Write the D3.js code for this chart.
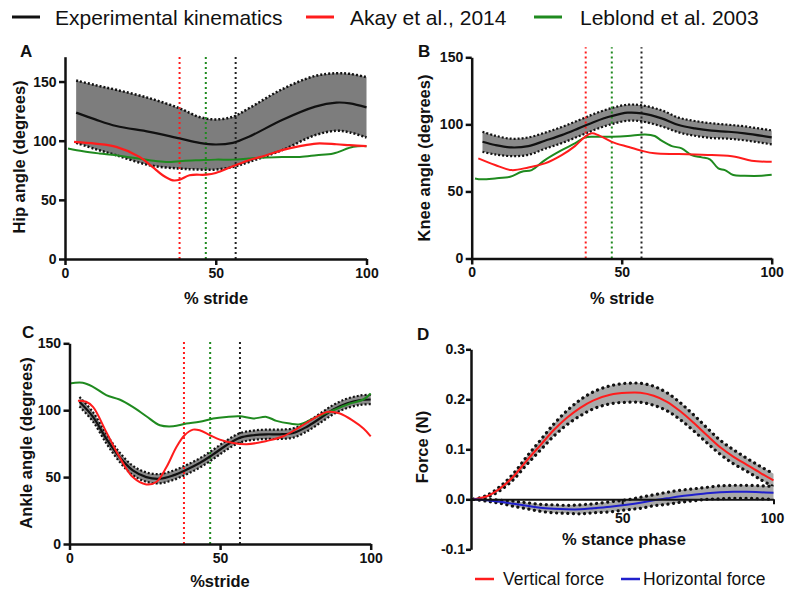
<!DOCTYPE html>
<html><head><meta charset="utf-8">
<script src="https://cdn.jsdelivr.net/npm/d3@7"></script>
<style>body{margin:0;background:#fff;overflow:hidden} svg{display:block}</style>
</head><body><svg id="c" width="785" height="590"></svg>
<script>
// ---------------- DATA ----------------
const legendTop = ["Experimental kinematics", "Akay et al., 2014", "Leblond et al. 2003"];
const legendBottom = ["Vertical force", "Horizontal force"];
const strideTicks = [0, 50, 100];
const angleTicks = [0, 50, 100, 150];
const forceTicks = [-0.1, 0, 0.1, 0.2, 0.3];
const toeOff = [38, 46.7, 56.6]; // Akay, Leblond, experimental

// A: hip
const hipX = [3.7, 10, 17, 28, 38, 44.6, 50, 55.7, 61, 72, 83, 90, 94.5, 100];
const hipMean = [123.7, 118, 112.4, 107.5, 101.9, 98.2, 96.8, 98.2, 103.3, 117.5, 128.8, 132.2, 131.6, 128.2];
const hipUpper = [150.9, 147, 143, 135.9, 127.4, 120, 118, 120.3, 127.4, 143.5, 154.8, 157, 156.5, 153.7];
const hipLower = [98.2, 93, 87.7, 79.3, 76.4, 75.6, 75.6, 77.8, 82, 92, 104.7, 108.4, 107, 102.7];
const hipAkayX = [3, 10, 17, 24.7, 29, 32.4, 35.8, 38, 41.3, 46.8, 50, 55.7, 61, 66.8, 72, 77.9, 83.4, 90, 94.5, 100];
const hipAkay = [99, 97.5, 94.8, 86.3, 77.8, 70.8, 66.5, 67, 70.8, 71.3, 72.7, 78.4, 83.5, 87.7, 92, 95.4, 97.6, 97, 96.2, 95.4];
const hipLeblondX = [1, 6, 11.4, 17, 28, 33.5, 39, 44.6, 50, 55.7, 61, 66.8, 72, 77.9, 83.4, 89, 95.6, 100];
const hipLeblond = [93.4, 91, 89.2, 87.7, 83.5, 82, 82.9, 83.5, 84, 84, 84.9, 85.8, 86.3, 86.3, 87.7, 89.2, 94.8, 95.4];

// B: knee
const kneeX = [3.6, 7.8, 13.3, 18.9, 24.4, 30, 35.6, 41, 46.7, 52, 56.7, 63.3, 69, 74.4, 80, 85.6, 91, 100];
const kneeMean = [87, 84.6, 82.8, 83.8, 87.8, 92, 97, 102, 106.2, 108.7, 108.2, 104.5, 99.5, 97, 95.3, 94.5, 93.3, 90.3];
const kneeSD = [7.5, 7, 6.5, 6.5, 6, 6, 6, 6, 6, 6, 6, 6, 5.5, 5.5, 5.5, 5.2, 5.2, 5.2];
const kneeAkayX = [2.2, 7.8, 13.3, 18.9, 24.4, 30, 34.4, 37.8, 40, 42.2, 46.7, 52, 56.7, 61, 69, 80, 87.8, 93.3, 100];
const kneeAkay = [74.6, 69.7, 65.9, 67.9, 70.9, 77.1, 83.8, 90.8, 93.3, 92, 87, 83.3, 80.3, 78.4, 77.9, 77.1, 75.9, 72.9, 72.1];
const kneeLeblondX = [1.1, 3.3, 7.8, 12.8, 16.7, 20, 24.4, 30, 34.4, 37.8, 41, 46.7, 52, 57.8, 61, 63.3, 66.7, 70, 73.3, 76.7, 79.4, 82.2, 84.4, 87.2, 91, 96.7, 100];
const kneeLeblond = [59.7, 59, 59.7, 61, 64.7, 65.9, 73.4, 80.8, 85.8, 90.3, 90.8, 90.8, 91.3, 92.5, 91.3, 87.8, 83.8, 82.1, 77.1, 75.4, 73.9, 67.2, 65.9, 62.2, 61.7, 61.7, 62.4];

// C: ankle
const ankleX = [3.3, 7.8, 12.2, 16.6, 21, 25.5, 30, 34.4, 38.8, 43.2, 47.7, 52.1, 56.5, 61, 65.4, 69.8, 74.3, 78.7, 83.1, 87.6, 92, 96.5, 100];
const ankleMean = [106.3, 95, 78.8, 65, 55, 50, 48.8, 51.3, 55.5, 60.5, 67, 73.8, 79.3, 81.3, 82, 82, 83, 87.5, 93.8, 100.5, 105, 107.5, 108];
const ankleSD = [3.5, 3.5, 3.5, 3.5, 3.5, 3.5, 3.5, 3.5, 3.5, 3.5, 3.5, 3.5, 3.5, 3.5, 3.5, 3.5, 3.5, 3.5, 3.5, 3.5, 3.5, 3.5, 3.5];
const ankleAkayX = [2.8, 5.5, 7.8, 12.2, 16.6, 21, 25.5, 28.8, 32.2, 35.5, 38.2, 41, 43.2, 46.6, 49.9, 54.3, 58.8, 65.4, 71, 76.5, 82, 85.9, 89.8, 94.2, 97.6, 100];
const ankleAkay = [107, 106.3, 102.5, 83.8, 65, 50, 44.5, 46.3, 57.5, 72.5, 81.3, 85.5, 85, 81.3, 78, 75.5, 74.5, 77, 80.5, 87.5, 95, 98.8, 97.5, 92, 86.3, 80.5];
const ankleLeblondX = [0, 4.4, 7.8, 12.2, 16.6, 21, 25.5, 30, 34.4, 38.8, 43.2, 47.7, 52.1, 56.5, 61, 65.4, 68.7, 73.2, 76.5, 82, 87.6, 93.1, 97.6, 100];
const ankleLeblond = [120, 120.5, 117.5, 111.3, 108, 102.5, 95.5, 88.8, 88, 90, 91.3, 93.8, 95, 95.5, 93.8, 95, 92, 90, 89.5, 95, 100, 105, 108, 112.5];

// D: forces
const stanceX = [0.9, 5.3, 9.7, 14.1, 18.5, 22.9, 27.3, 31.7, 36.1, 40.5, 46, 51.5, 56, 60.4, 64.8, 69.2, 73.6, 78, 82.4, 86.8, 91.2, 95.6, 100];
const vertMean = [0, 0.006, 0.022, 0.046, 0.078, 0.108, 0.138, 0.163, 0.183, 0.198, 0.209, 0.213, 0.213, 0.207, 0.195, 0.176, 0.153, 0.128, 0.104, 0.085, 0.069, 0.053, 0.038];
const vertSD = [0, 0.002, 0.004, 0.006, 0.008, 0.01, 0.012, 0.014, 0.016, 0.017, 0.018, 0.019, 0.019, 0.019, 0.018, 0.017, 0.016, 0.015, 0.014, 0.014, 0.013, 0.013, 0.013];
const horizMean = [0, -0.002, -0.005, -0.009, -0.013, -0.017, -0.019, -0.02, -0.02, -0.018, -0.015, -0.011, -0.007, -0.002, 0.002, 0.006, 0.009, 0.012, 0.014, 0.015, 0.015, 0.014, 0.013];
const horizSD = [0, 0.002, 0.003, 0.005, 0.006, 0.007, 0.008, 0.008, 0.009, 0.009, 0.01, 0.01, 0.011, 0.011, 0.012, 0.012, 0.012, 0.012, 0.013, 0.013, 0.013, 0.013, 0.013];

// ---------------- DRAWING ----------------
const FONT = 'Arial, "Liberation Sans", sans-serif';
const RED = "#ff1c1c", GREEN = "#1f8a1f", BLUE = "#2020cc", BLACK = "#111";
const svg = d3.select("#c").style("font-family", FONT);
const zip = (xs, ys) => xs.map((v, i) => [v, ys[i]]);

function makePanel(cfg) {
  const x = d3.scaleLinear([0, 100], cfg.xr);
  const y = d3.scaleLinear(cfg.yd, cfg.yr);
  const g = svg.append("g");
  const curve = d3.curveCatmullRom.alpha(0.5);
  const line = d3.line().x(d => x(d[0])).y(d => y(d[1])).curve(curve);
  return { x, y, g, line, curve };
}

function drawBand(p, xs, lo, hi, fill, edge) {
  const area = d3.area().x(d => p.x(d[0])).y0(d => p.y(d[1])).y1(d => p.y(d[2])).curve(p.curve);
  p.g.append("path").datum(xs.map((v, i) => [v, lo[i], hi[i]]))
    .attr("d", area).attr("fill", fill).attr("stroke", "none");
  [lo, hi].forEach(arr => {
    p.g.append("path").datum(zip(xs, arr)).attr("d", p.line)
      .attr("fill", "none").attr("stroke", BLACK)
      .attr("stroke-width", edge.w).attr("stroke-dasharray", edge.dash)
      .attr("stroke-linecap", edge.cap || "butt");
  });
}

function drawLine(p, xs, ys, color, w) {
  p.g.append("path").datum(zip(xs, ys)).attr("d", p.line)
    .attr("fill", "none").attr("stroke", color).attr("stroke-width", w);
}

function drawVLines(p, top) {
  const cols = [RED, GREEN, "#222"];
  toeOff.forEach((v, i) => {
    p.g.append("line").attr("x1", p.x(v)).attr("x2", p.x(v))
      .attr("y1", p.y(0)).attr("y2", p.y(top))
      .attr("stroke", cols[i]).attr("stroke-width", 2).attr("stroke-dasharray", "2,3");
  });
}

function styleAxis(sel, w, fs) {
  sel.select(".domain").attr("stroke", BLACK).attr("stroke-width", w);
  sel.selectAll(".tick line").attr("stroke", BLACK).attr("stroke-width", w);
  sel.selectAll(".tick text").attr("fill", BLACK).attr("font-size", fs || 14)
    .attr("font-weight", "bold").attr("font-family", FONT);
}

function drawAxes(p, yTicks, fmt, xPad, yPad, w) {
  const ax = p.g.append("g").attr("transform", `translate(0,${p.y(0)})`)
    .call(d3.axisBottom(p.x).tickValues(strideTicks).tickSize(6).tickSizeOuter(0).tickPadding(xPad));
  styleAxis(ax, w);
  const ay = p.g.append("g").attr("transform", `translate(${p.x(0)},0)`)
    .call(d3.axisLeft(p.y).tickValues(yTicks).tickFormat(fmt).tickSize(6).tickSizeOuter(0).tickPadding(yPad));
  styleAxis(ay, w);
  return { ax, ay };
}

function label(txt, x, y, size, opts = {}) {
  const t = svg.append("text").attr("x", x).attr("y", y).text(txt)
    .attr("font-size", size).attr("font-weight", opts.bold ? "bold" : "normal")
    .attr("fill", BLACK).attr("text-anchor", opts.anchor || "start");
  if (opts.rot) t.attr("transform", `rotate(-90,${x},${y})`);
  return t;
}

const intFmt = d => String(d);

// Panel A
const pA = makePanel({ xr: [65, 366.5], yd: [0, 171], yr: [259, 56.7] });
drawBand(pA, hipX, hipLower, hipUpper, "#7d7d7d", { w: 2.5, dash: "2,2" });
drawVLines(pA, 171);
drawLine(pA, hipX, hipMean, BLACK, 2.2);
drawLine(pA, hipLeblondX, hipLeblond, GREEN, 2);
drawLine(pA, hipAkayX, hipAkay, RED, 2.2);
drawAxes(pA, angleTicks, intFmt, 3, 2.5, 2.5);

// Panel B
const pB = makePanel({ xr: [471.7, 771.7], yd: [0, 150], yr: [258.5, 57.3] });
drawBand(pB, kneeX, kneeMean.map((m, i) => m - kneeSD[i]), kneeMean.map((m, i) => m + kneeSD[i]), "#8a8a8a", { w: 2.2, dash: "2,2" });
drawVLines(pB, 157.5);
drawLine(pB, kneeX, kneeMean, BLACK, 2.2);
drawLine(pB, kneeLeblondX, kneeLeblond, GREEN, 2);
drawLine(pB, kneeAkayX, kneeAkay, RED, 2);
drawAxes(pB, angleTicks, intFmt, 3, 2.5, 2.5);

// Panel C
const pC = makePanel({ xr: [69.5, 370.7], yd: [0, 150], yr: [544, 343.3] });
drawBand(pC, ankleX, ankleMean.map((m, i) => m - ankleSD[i]), ankleMean.map((m, i) => m + ankleSD[i]), "#8a8a8a", { w: 2.2, dash: "2,2" });
drawVLines(pC, 151);
drawLine(pC, ankleX, ankleMean, BLACK, 2.2);
drawLine(pC, ankleLeblondX, ankleLeblond, GREEN, 2);
drawLine(pC, ankleAkayX, ankleAkay, RED, 2);
drawAxes(pC, angleTicks, intFmt, 3, 2.5, 2.5);

// Panel D
const pD = makePanel({ xr: [471, 773.5], yd: [-0.1, 0.3], yr: [549.3, 349.3] });
const dEdge = { w: 3.2, dash: "0.1,5.5", cap: "round" };
drawBand(pD, stanceX, vertMean.map((m, i) => m - vertSD[i]), vertMean.map((m, i) => m + vertSD[i]), "#a9a9a9", dEdge);
drawBand(pD, stanceX, horizMean.map((m, i) => m - horizSD[i]), horizMean.map((m, i) => m + horizSD[i]), "#a9a9a9", dEdge);
drawLine(pD, stanceX, vertMean, RED, 2);
drawLine(pD, stanceX, horizMean, BLUE, 2);
const axD = pD.g.append("g").attr("transform", `translate(0,${pD.y(0)})`)
  .call(d3.axisBottom(pD.x).tickValues([50, 100]).tickSize(5).tickSizeOuter(0).tickPadding(9));
styleAxis(axD, 2);
axD.selectAll(".tick text").filter(d => d === 100).attr("dx", -1.5);
const ayD = pD.g.append("g").attr("transform", `translate(${pD.x(0)},0)`)
  .call(d3.axisLeft(pD.y).tickValues(forceTicks).tickFormat(d => d.toFixed(1)).tickSize(5).tickSizeOuter(0).tickPadding(1));
styleAxis(ayD, 2.5);

// Panel letters
label("A", 20, 57, 17, { bold: true });
label("B", 418, 57, 17, { bold: true });
label("C", 22, 338, 17, { bold: true });
label("D", 417, 340, 17, { bold: true });

// Axis titles
label("Hip angle (degrees)", 25, 157, 16.5, { bold: true, anchor: "middle", rot: true });
label("Knee angle (degrees)", 430, 158, 16.5, { bold: true, anchor: "middle", rot: true });
label("Ankle angle (degrees)", 32, 443, 16.5, { bold: true, anchor: "middle", rot: true });
label("Force (N)", 428, 447, 16.5, { bold: true, anchor: "middle", rot: true });
label("% stride", 216, 304, 16.5, { bold: true, anchor: "middle" });
label("% stride", 622, 304, 16.5, { bold: true, anchor: "middle" });
label("%stride", 220, 587, 16.5, { bold: true, anchor: "middle" });
label("% stance phase", 624, 545, 16.5, { bold: true, anchor: "middle" });

// Top legend
const topCols = [BLACK, RED, GREEN];
const topLineX = [12, 306, 534];
const topTextX = [55, 350, 580];
legendTop.forEach((t, i) => {
  svg.append("line").attr("x1", topLineX[i]).attr("x2", topLineX[i] + 28)
    .attr("y1", 17).attr("y2", 17).attr("stroke", topCols[i]).attr("stroke-width", 3);
  label(t, topTextX[i], 25, 21, {});
});

// Bottom legend
const botCols = [RED, BLUE];
const botLineX = [475, 621];
const botTextX = [503, 643];
legendBottom.forEach((t, i) => {
  svg.append("line").attr("x1", botLineX[i]).attr("x2", botLineX[i] + 19)
    .attr("y1", 579).attr("y2", 579).attr("stroke", botCols[i]).attr("stroke-width", 2.5);
  label(t, botTextX[i], 585, 17.5, {});
});
</script>
</body></html>
